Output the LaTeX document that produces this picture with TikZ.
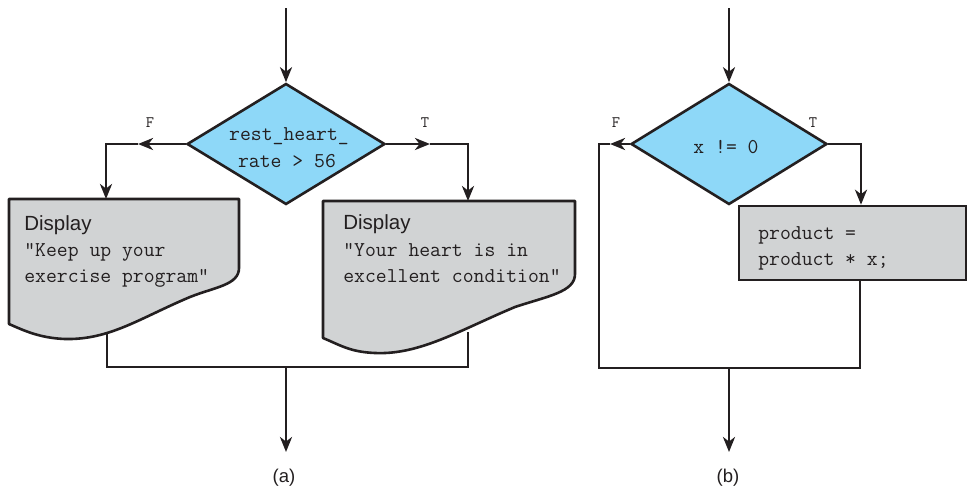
\documentclass[tikz,border=0pt]{standalone}
\usepackage{fontspec}
\setmainfont{Liberation Sans}
\usetikzlibrary{arrows.meta,shapes.geometric}
\definecolor{diafill}{HTML}{8ED8F8}
\definecolor{boxfill}{HTML}{D1D3D4}
\definecolor{ink}{HTML}{231F20}
\begin{document}
\begin{tikzpicture}[x=1pt,y=-1pt,color=ink,line width=2.6pt,line join=miter,
  flow/.style={-{Stealth[length=15pt,width=12pt,inset=4.5pt]}},
  decision/.style={diamond,draw,fill=diafill,inner sep=0pt,minimum width=198pt,minimum height=121pt},
  procbox/.style={rectangle,draw,fill=boxfill,inner sep=0pt,minimum width=227pt,minimum height=74pt},
  docshape/.style={draw,fill=boxfill,line join=round},
  mono/.style={font=\fontsize{21.1}{27}\ttfamily,inner sep=0pt,anchor=base west},
  monoc/.style={font=\fontsize{21.1}{27}\ttfamily,inner sep=0pt,anchor=base},
  sans/.style={font=\fontsize{20.5}{24}\selectfont,inner sep=0pt,anchor=base west},
  branch/.style={font=\fontsize{16}{18}\ttfamily,inner sep=0pt},
  caption/.style={font=\fontsize{18.5}{20}\selectfont,inner sep=0pt}]
\useasboundingbox (0,0) rectangle (968,488);

% ---------------- (a) ----------------
\node[decision] (d1) at (286,144) {};
\node[monoc] (d1l1) at (289,140) {rest\_heart\_};
\node[monoc] (d1l2) at (287,167) {rate > 56};

\coordinate (inA) at (286,8);
\draw[flow] (inA) -- (d1.north);

% left document box
\draw[docshape] (9,199) -- (239,199) -- (239,268)
  .. controls (239,285) and (215,287) .. (190,297)
  .. controls (140,318) and (110,340) .. (65,339)
  .. controls (40,338) and (25,331) .. (9,324) -- cycle;
\coordinate (b1top) at (106,199);
\coordinate (b1bot) at (107,333);
\node[sans] (b1t0) at (23,230) {Display};
\node[mono] (b1t1) at (23,256) {"Keep up your};
\node[mono] (b1t2) at (23,282) {exercise program"};

% right document box
\draw[docshape] (323,201) -- (575,201) -- (575,274)
  .. controls (575,292) and (548,296) .. (515,307)
  .. controls (460,330) and (420,355) .. (375,353)
  .. controls (350,352) and (340,345) .. (323,338) -- cycle;
\coordinate (b2top) at (468,201);
\coordinate (b2bot) at (468,332);
\node[sans] (b2t0) at (342,229) {Display};
\node[mono] (b2t1) at (342,256) {"Your heart is in};
\node[mono] (b2t2) at (342,282) {excellent condition"};

% F branch
\coordinate (fmidA) at (138,144);
\coordinate (fcornA) at (106,144);
\draw[flow] (d1.west) -- (fmidA);
\draw[flow] (fmidA) -- (fcornA) -- (b1top);
\node[branch] (fA) at (150,123) {F};

% T branch
\coordinate (tmidA) at (430,144);
\coordinate (tcornA) at (468,144);
\draw[flow] (d1.east) -- (tmidA);
\draw[flow] (tmidA) -- (tcornA) -- (b2top);
\node[branch] (tA) at (425,123) {T};

% merge
\coordinate (jLA) at (107,367);
\coordinate (jRA) at (468,367);
\coordinate (jMA) at (286,367);
\coordinate (outA) at (286,452);
\draw (b1bot) -- (jLA) -- (jRA) -- (b2bot);
\draw[flow] (jMA) -- (outA);
\node[caption] (capA) at (284,478) {(a)};

% ---------------- (b) ----------------
\node[decision,minimum width=196pt] (d2) at (729,144) {};
\node[monoc] (d2l1) at (726,153) {x != 0};

\coordinate (inB) at (729,8);
\draw[flow] (inB) -- (d2.north);

\node[procbox] (proc) at (852.5,243) {};
\node[mono] (p1) at (757,239) {product =};
\node[mono] (p2) at (757,265) {product * x;};

% T branch
\coordinate (tcornB) at (861,144);
\draw[flow] (d2.east) -- (tcornB) -- (proc.north -| tcornB);
\node[branch] (tB) at (813,123) {T};

% F branch (loop exit)
\coordinate (fmidB) at (610,144);
\coordinate (fcornB) at (599,144);
\coordinate (jLB) at (599,368);
\coordinate (jRB) at (860,368);
\coordinate (jMB) at (729,368);
\coordinate (outB) at (729,452);
\draw[flow] (d2.west) -- (fmidB);
\draw (fmidB) -- (fcornB) -- (jLB) -- (jRB) -- (proc.south -| jRB);
\draw[flow] (jMB) -- (outB);
\node[branch] (fB) at (616,123) {F};
\node[caption] (capB) at (728,478) {(b)};
\end{tikzpicture}
\end{document}
